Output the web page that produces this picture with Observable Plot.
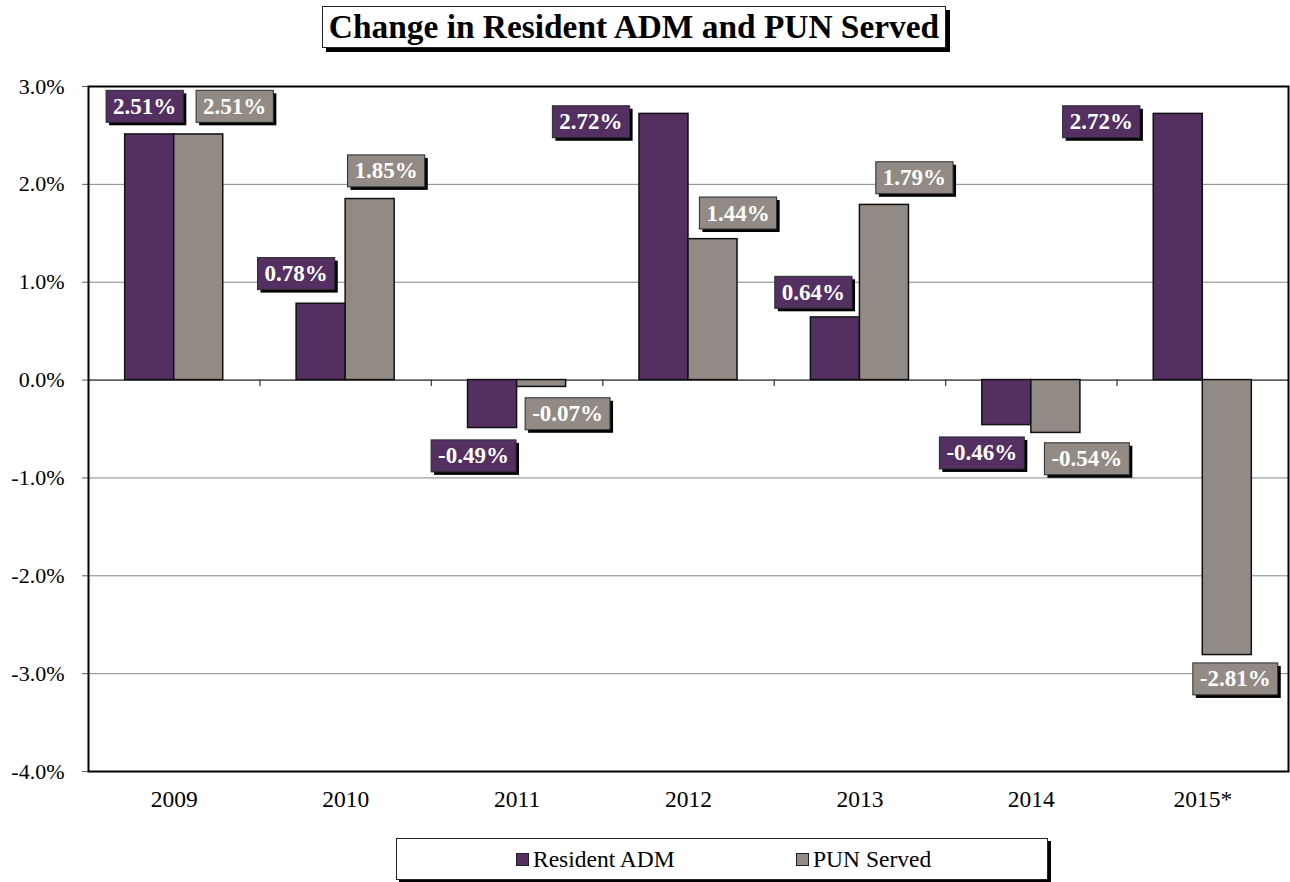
<!DOCTYPE html>
<html>
<head>
<meta charset="utf-8">
<script src="https://cdn.jsdelivr.net/npm/d3@7"></script>
<script src="https://cdn.jsdelivr.net/npm/@observablehq/plot@0.6"></script>
<style>
  body { margin: 0; background: #fff; font-family: "Liberation Serif", "Times New Roman", serif; }
  #wrap { position: relative; width: 1290px; height: 882px; overflow: hidden; background: #fff; }
  #title {
    position: absolute; left: 322px; top: 6px; width: 622px; height: 40px;
    border: 1px solid #222; box-shadow: 4px 4px 0 #000; background: #fff;
    font-weight: bold; font-size: 33.4px; line-height: 40px; text-align: center; white-space: nowrap;
  }
  #chart { position: absolute; left: 0; top: 60px; }
  #legend {
    position: absolute; left: 396px; top: 838px; width: 650px; height: 40px;
    border: 1px solid #222; box-shadow: 3px 3px 0 #000; background: #fff;
    font-size: 23.5px;
  }
  #legend .item { position: absolute; top: 0; height: 40px; display: flex; align-items: center; white-space: nowrap; }
  #legend .sw { width: 11px; height: 11px; border: 1px solid #222; margin-right: 4px; }
</style>
</head>
<body>
<div id="wrap">
  <div id="title">Change in Resident ADM and PUN Served</div>
  <div id="chart"></div>
  <div id="legend"></div>
</div>
<script>
// Year-over-year change (%)
const years = ["2009", "2010", "2011", "2012", "2013", "2014", "2015*"];
const series = ["Resident ADM", "PUN Served"];
const residentADM = [2.51, 0.78, -0.49, 2.72, 0.64, -0.46, 2.72];
const punServed = [2.51, 1.85, -0.07, 1.44, 1.79, -0.54, -2.81];
const yTicks = [-4, -3, -2, -1, 0, 1, 2, 3];
const colors = ["#532f62", "#928a84"];

// Label placement: pixel nudge of each value box from its bar end
const labelNudge = {
  "Resident ADM": [[-5, -28], [-25, -30], [-19, 28], [-73, 8], [-22, -25], [-25, 28], [-77, 8]],
  "PUN Served":   [[36, -28], [16, -28], [26, 27], [25, -26], [30, -27], [31, 26], [8, 24]]
};

const values = [residentADM, punServed];
const rows = years.flatMap((year, i) => series.map((s, k) => ({
  year, i, series: s, value: values[k][i], side: k === 0 ? -1 : 1
})));

const barW = 0.286; // bar width in category units (two bars per category)
const color = Plot.scale({color: {domain: series, range: colors}});
const boundaries = years.slice(1).map((_, i) => i + 0.5);

const labelMarks = rows.map((d) => {
  const [dx, dy] = labelNudge[d.series][d.i];
  return Plot.text([d], {
    x: (r) => r.i + r.side * barW / 2,
    y: "value",
    text: (r) => r.value.toFixed(2) + "%",
    dx, dy,
    fill: "white",
    fontWeight: "bold",
    fontSize: 23,
    ariaDescription: "value label"
  });
});

const chart = Plot.plot({
  width: 1290,
  height: 760,
  marginLeft: 88,
  marginRight: 2,
  marginTop: 26,
  marginBottom: 49,
  style: {fontFamily: "'Liberation Serif', 'Times New Roman', serif", background: "white", color: "black"},
  x: {domain: [-0.5, years.length - 0.5]},
  y: {domain: [-4, 3]},
  marks: [
    Plot.ruleY(yTicks, {stroke: "#858585", strokeWidth: 1}),
    Plot.ruleY([0], {stroke: "#404040", strokeWidth: 1.3}),
    Plot.ruleX(boundaries, {y1: 0, y2: -0.065, stroke: "#404040", strokeWidth: 1.3}),
    Plot.axisY({
      ticks: yTicks, tickFormat: (d) => d.toFixed(1) + "%", label: null,
      tickSize: 6, tickPadding: 18, fontSize: 22, stroke: "#606060"
    }),
    Plot.axisX({
      ticks: years.map((_, i) => i), tickFormat: (i) => years[i], label: null,
      tickSize: 0, tickPadding: 19, fontSize: 23.5
    }),
    Plot.rect(rows, {
      x1: (d) => d.side < 0 ? d.i - barW : d.i,
      x2: (d) => d.side < 0 ? d.i : d.i + barW,
      y1: 0,
      y2: "value",
      fill: (d) => color.apply(d.series),
      stroke: "#111",
      strokeWidth: 1.5
    }),
    Plot.frame({stroke: "black", strokeWidth: 2}),
    ...labelMarks
  ]
});

document.getElementById("chart").append(chart);

// Draw the boxed, shadowed background behind each value label
const ns = "http://www.w3.org/2000/svg";
let labelGroups = chart.querySelectorAll('g[aria-description="value label"]');
if (labelGroups.length !== rows.length) labelGroups = chart.querySelectorAll('g[aria-label="text"]');
labelGroups.forEach((g, k) => {
  const d = rows[k];
  const t = g.querySelector("text");
  const b = t.getBBox();
  const w = b.width + 14, h = 32;
  const x = b.x + b.width / 2 - w / 2, y = b.y + b.height / 2 - h / 2;
  const tf = t.getAttribute("transform");
  const shadow = document.createElementNS(ns, "rect");
  const box = document.createElementNS(ns, "rect");
  for (const [r, off, fill] of [[shadow, 3, "#000"], [box, 0, color.apply(d.series)]]) {
    r.setAttribute("x", x + off);
    r.setAttribute("y", y + off);
    r.setAttribute("width", w);
    r.setAttribute("height", h);
    r.setAttribute("fill", fill);
    if (tf) r.setAttribute("transform", tf);
  }
  box.setAttribute("stroke", "#2a2a2a");
  box.setAttribute("stroke-width", "1");
  t.parentNode.insertBefore(shadow, t);
  t.parentNode.insertBefore(box, t);
});

// Legend
const legend = document.getElementById("legend");
const legendLeft = [119, 399];
series.forEach((s, k) => {
  const item = document.createElement("div");
  item.className = "item";
  item.style.left = legendLeft[k] + "px";
  const sw = document.createElement("span");
  sw.className = "sw";
  sw.style.background = colors[k];
  const label = document.createElement("span");
  label.textContent = s;
  item.append(sw, label);
  legend.append(item);
});
</script>
</body>
</html>
